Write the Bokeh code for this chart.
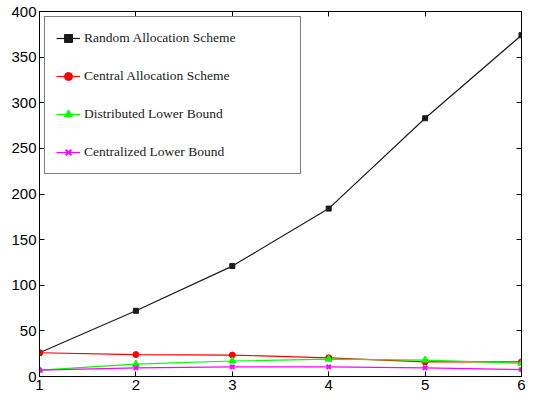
from bokeh.plotting import figure
from bokeh.models import (LinearAxis, FixedTicker, Range1d, Legend, LegendItem,
                          CustomJSTickFormatter)
from bokeh.embed import file_html
from bokeh.resources import INLINE

x = [1, 2, 3, 4, 5, 6]
random_alloc = [26, 72, 121, 184, 283, 374]
central_alloc = [26, 24, 23.5, 20.5, 16, 16]
distributed_lb = [7, 13.5, 17, 19, 18, 14.5]
centralized_lb = [7, 9.5, 10.5, 10.5, 9.5, 7.5]
names = ["Random Allocation Scheme", "Central Allocation Scheme",
         "Distributed Lower Bound", "Centralized Lower Bound"]
x_ticks = [1, 2, 3, 4, 5, 6]
y_ticks = [0, 50, 100, 150, 200, 250, 300, 350, 400]

p = figure(width=527, height=392, output_backend="svg", toolbar_location=None,
           x_range=Range1d(1, 6), y_range=Range1d(0, 400),
           min_border_left=39, min_border_right=6, min_border_top=11, min_border_bottom=4)
p.grid.visible = False
p.outline_line_color = "black"
p.outline_line_width = 1

def style_axis(ax):
    ax.major_tick_in = 5
    ax.major_tick_out = 0
    ax.minor_tick_line_color = None
    ax.axis_line_color = "black"
    ax.major_tick_line_color = "black"
    ax.major_label_text_font = "Liberation Sans"
    ax.major_label_text_font_size = "15px"
    ax.major_label_text_color = "black"
    ax.major_label_standoff = 3

p.xaxis.ticker = FixedTicker(ticks=x_ticks)
p.yaxis.ticker = FixedTicker(ticks=y_ticks)
style_axis(p.xaxis[0])
style_axis(p.yaxis[0])

blank = CustomJSTickFormatter(code="return '';")
top = LinearAxis(ticker=FixedTicker(ticks=x_ticks), formatter=blank)
right = LinearAxis(ticker=FixedTicker(ticks=y_ticks), formatter=blank)
style_axis(top)
style_axis(right)
top.major_label_standoff = 0
right.major_label_standoff = 0
p.add_layout(top, "above")
p.add_layout(right, "right")

series = [
    (random_alloc, "#1a1a1a", "square", 5),
    (central_alloc, "#ff0000", "circle", 6),
    (distributed_lb, "#00ff00", "triangle", 7),
    (centralized_lb, "#ff00ff", "x", 6),
]
items = []
for (vals, col, mk, sz), name in zip(series, names):
    ln = p.line(x, vals, line_color=col, line_width=1.2)
    kw = dict(marker=mk, size=sz, line_color=col, fill_color=col)
    if mk == "x":
        kw["line_width"] = 2
    sc = p.scatter(x, vals, **kw)
    items.append(LegendItem(label=name, renderers=[ln, sc]))

legend = Legend(items=items, location="top_left")
legend.label_text_font = "Liberation Serif"
legend.label_text_font_size = "13.5px"
legend.label_text_color = "#222222"
legend.glyph_width = 24
legend.glyph_height = 20
legend.label_height = 20
legend.spacing = 18
legend.padding = 11
legend.margin = 5
legend.label_standoff = 4
legend.label_width = 205
legend.border_line_color = "black"
legend.border_line_width = 1
legend.background_fill_alpha = 1
p.add_layout(legend)

open("out.html", "w").write(file_html(p, INLINE))
